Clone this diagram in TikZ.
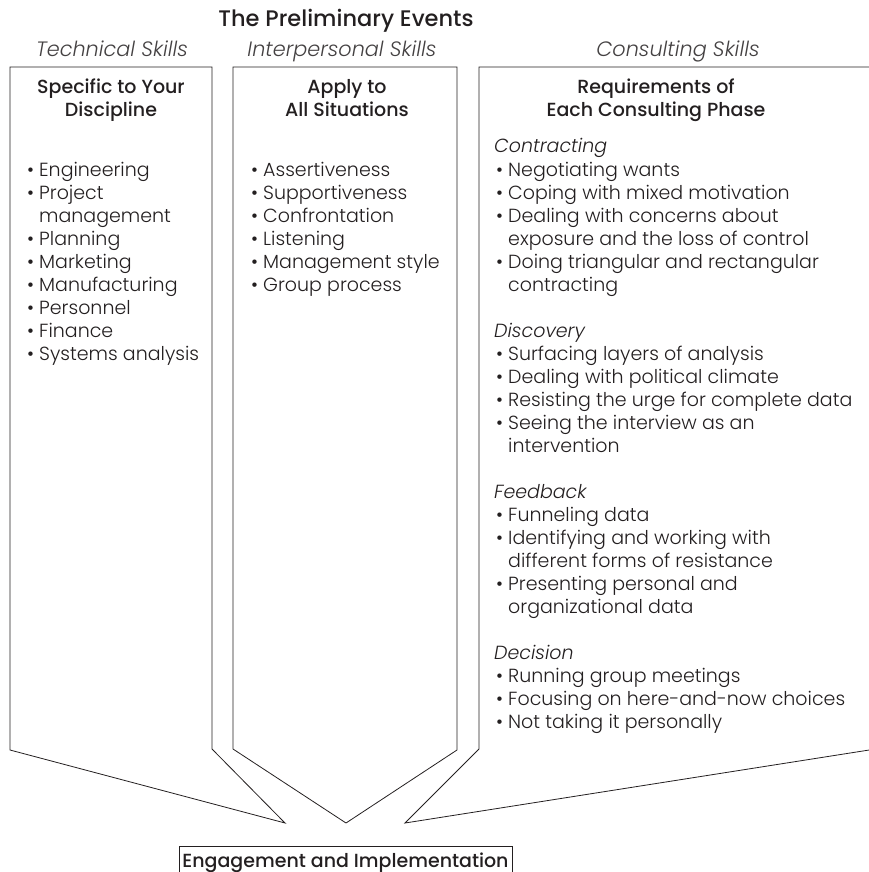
\documentclass[tikz,border=0pt]{standalone}
\usepackage{fontspec}
\setmainfont{Poppins Light}[ItalicFont={Poppins Light Italic},BoldFont={Poppins Medium}]
\definecolor{ink}{HTML}{231F20}
% bullet item, continuation line and italic phase heading
\newcommand\bitem[4]{\node[txt] (#1) at (#2,#3) {\makebox[12pt][l]{•}#4};}
\newcommand\citem[4]{\node[txt] (#1) at (#2+12,#3) {#4};}
\newcommand\phase[4]{\node[txt,font=\bodyfont\itshape] (#1) at (#2,#3) {#4};}
\newcommand\bodyfont{\fontsize{19}{23}\selectfont}
\begin{document}
\begin{tikzpicture}[x=1pt,y=-1pt,
  outline/.style={draw=ink,line width=0.8pt,line join=miter},
  txt/.style={inner sep=0pt,anchor=base west,text=ink,font=\bodyfont},
  ctr/.style={inner sep=0pt,anchor=base,text=ink,font=\bodyfont},
  hd/.style={ctr,font=\bodyfont\bfseries},
  bigtitle/.style={ctr,font=\fontsize{22.5}{26}\selectfont\bfseries},
  skill/.style={ctr,text=ink!85,font=\fontsize{20.8}{24}\selectfont\itshape}]
\useasboundingbox (0,0) rectangle (869,872);
\clip (0,0) rectangle (869,872);

% three skill columns, each closing in a point
\coordinate (Ltl) at (10,67);  \coordinate (Ltr) at (212,67);
\coordinate (Lbr) at (212,749); \coordinate (Ltip) at (285,823);
\coordinate (Lbl) at (10,750);
\draw[outline] (Ltl) -- (Ltr) -- (Lbr) -- (Ltip) -- (Lbl) -- cycle;

\coordinate (Mtl) at (233,67);  \coordinate (Mtr) at (457,67);
\coordinate (Mbr) at (457,750); \coordinate (Mtip) at (346,823);
\coordinate (Mbl) at (233,749);
\draw[outline] (Mtl) -- (Mtr) -- (Mbr) -- (Mtip) -- (Mbl) -- cycle;

\coordinate (Rtr) at (880,67);  \coordinate (Rtl) at (479,67);
\coordinate (Rbl) at (479,749); \coordinate (Rtip) at (405,823);
\coordinate (Rbr) at (880,748.3);
\draw[outline] (Rtr) -- (Rtl) -- (Rbl) -- (Rtip) -- (Rbr);

% titles
\node[bigtitle] (title) at (346,27) {The Preliminary Events};
\node[skill] (tech) at (112,57) {Technical Skills};
\node[skill] (inter) at (342,57) {Interpersonal Skills};
\node[skill] (cons) at (678,57) {Consulting Skills};

\node[hd] (h1a) at (111,94) {Specific to Your};
\node[hd] (h1b) at (111,117) {Discipline};
\node[hd] (h2a) at (347,94) {Apply to};
\node[hd] (h2b) at (347,117) {All Situations};
\node[hd] (h3a) at (656,94) {Requirements of};
\node[hd] (h3b) at (656,117) {Each Consulting Phase};

% technical skills
\bitem{t1}{27}{176}{Engineering}
\bitem{t2}{27}{199}{Project}
\citem{t2b}{27}{222}{management}
\bitem{t3}{27}{245}{Planning}
\bitem{t4}{27}{268}{Marketing}
\bitem{t5}{27}{291}{Manufacturing}
\bitem{t6}{27}{314}{Personnel}
\bitem{t7}{27}{337}{Finance}
\bitem{t8}{27}{360}{Systems analysis}

% interpersonal skills
\bitem{i1}{251}{176}{Assertiveness}
\bitem{i2}{251}{199}{Supportiveness}
\bitem{i3}{251}{222}{Confrontation}
\bitem{i4}{251}{245}{Listening}
\bitem{i5}{251}{268}{Management style}
\bitem{i6}{251}{291}{Group process}

% consulting skills by phase
\phase{p1}{494}{153}{Contracting}
\bitem{c1}{496}{176}{Negotiating wants}
\bitem{c2}{496}{199}{Coping with mixed motivation}
\bitem{c3}{496}{222}{Dealing with concerns about}
\citem{c3b}{496}{245}{exposure and the loss of control}
\bitem{c4}{496}{268}{Doing triangular and rectangular}
\citem{c4b}{496}{291}{contracting}

\phase{p2}{494}{337}{Discovery}
\bitem{d1}{496}{360}{Surfacing layers of analysis}
\bitem{d2}{496}{383}{Dealing with political climate}
\bitem{d3}{496}{406}{Resisting the urge for complete data}
\bitem{d4}{496}{429}{Seeing the interview as an}
\citem{d4b}{496}{452}{intervention}

\phase{p3}{494}{498}{Feedback}
\bitem{f1}{496}{521}{Funneling data}
\bitem{f2}{496}{544}{Identifying and working with}
\citem{f2b}{496}{567}{different forms of resistance}
\bitem{f3}{496}{590}{Presenting personal and}
\citem{f3b}{496}{613}{organizational data}

\phase{p4}{494}{659}{Decision}
\bitem{e1}{496}{682}{Running group meetings}
\bitem{e2}{496}{705}{Focusing on here-and-now choices}
\bitem{e3}{496}{728}{Not taking it personally}

% result box
\coordinate (Etl) at (179,846); \coordinate (Ebr) at (512,900);
\draw[outline] (Etl) rectangle (Ebr);
\node[hd] (eng) at (345.5,867) {Engagement and Implementation};
\end{tikzpicture}
\end{document}
